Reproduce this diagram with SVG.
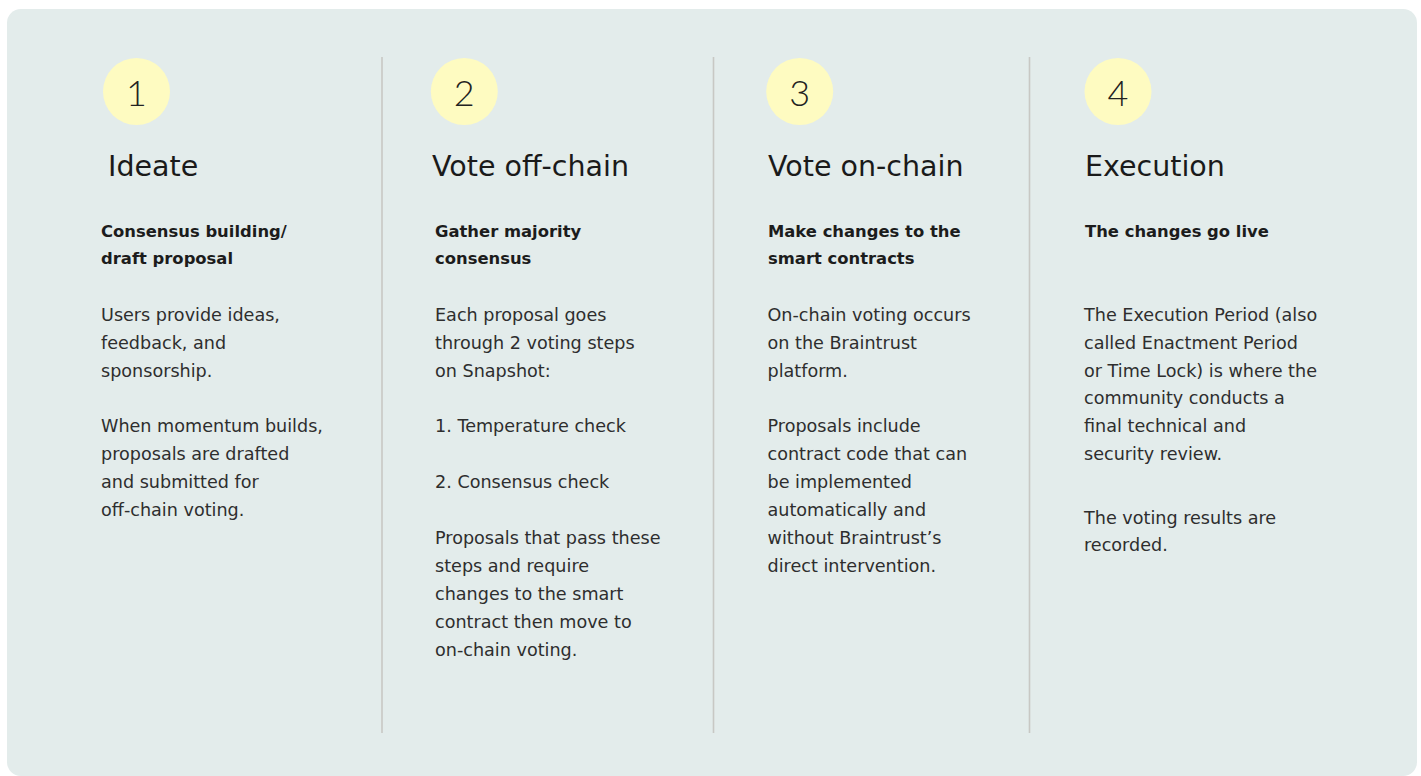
<svg xmlns="http://www.w3.org/2000/svg" width="1421" height="776" viewBox="0 0 1421 776">
<style>
.num{font-family:Lato,"DejaVu Sans",sans-serif;font-weight:300;font-size:36px;fill:#222;text-anchor:middle}
.title{font-family:"DejaVu Sans",sans-serif;font-size:28.5px;fill:#1a1a1a}
.sub{font-family:"DejaVu Sans",sans-serif;font-weight:bold;font-size:16.4px;fill:#1c1c1c}
.body{font-family:"DejaVu Sans",sans-serif;font-size:17.6px;fill:#2e2e2e}
.circ{fill:#FEFBC1}
.div{stroke:#C8C8C4;stroke-width:1.6}
</style>
<rect x="7" y="9" width="1410" height="767" rx="14" fill="#E3ECEB"/>
<g id="dividers">
<line class="div" x1="382" y1="57" x2="382" y2="733"/>
<line class="div" x1="713.5" y1="57" x2="713.5" y2="733"/>
<line class="div" x1="1029.5" y1="57" x2="1029.5" y2="733"/>
</g>
<g id="step1">
<circle class="circ" cx="136.5" cy="91.5" r="33.5"/>
<text class="num" x="136.5" y="106">1</text>
<text class="title" x="108" y="176">Ideate</text>
<text class="sub" x="101" y="236.5">Consensus building/</text>
<text class="sub" x="101" y="264.3">draft proposal</text>
<text class="body" x="101" y="320.7">Users provide ideas,</text>
<text class="body" x="101" y="348.6">feedback, and</text>
<text class="body" x="101" y="376.5">sponsorship.</text>
<text class="body" x="101" y="432.3">When momentum builds,</text>
<text class="body" x="101" y="460.2">proposals are drafted</text>
<text class="body" x="101" y="488.1">and submitted for</text>
<text class="body" x="101" y="516">off-chain voting.</text>
</g>
<g id="step2">
<circle class="circ" cx="464.3" cy="91.5" r="33.5"/>
<text class="num" x="464.3" y="106">2</text>
<text class="title" x="432" y="176">Vote off-chain</text>
<text class="sub" x="435" y="236.5">Gather majority</text>
<text class="sub" x="435" y="264.3">consensus</text>
<text class="body" x="435" y="320.7">Each proposal goes</text>
<text class="body" x="435" y="348.6">through 2 voting steps</text>
<text class="body" x="435" y="376.5">on Snapshot:</text>
<text class="body" x="435" y="432.3">1. Temperature check</text>
<text class="body" x="435" y="488.1">2. Consensus check</text>
<text class="body" x="435" y="543.9">Proposals that pass these</text>
<text class="body" x="435" y="571.8">steps and require</text>
<text class="body" x="435" y="599.7">changes to the smart</text>
<text class="body" x="435" y="627.6">contract then move to</text>
<text class="body" x="435" y="655.5">on-chain voting.</text>
</g>
<g id="step3">
<circle class="circ" cx="799.7" cy="91.5" r="33.5"/>
<text class="num" x="799.7" y="106">3</text>
<text class="title" x="768" y="176">Vote on-chain</text>
<text class="sub" x="768" y="236.5">Make changes to the</text>
<text class="sub" x="768" y="264.3">smart contracts</text>
<text class="body" x="767.5" y="320.7">On-chain voting occurs</text>
<text class="body" x="767.5" y="348.6">on the Braintrust</text>
<text class="body" x="767.5" y="376.5">platform.</text>
<text class="body" x="767.5" y="432.3">Proposals include</text>
<text class="body" x="767.5" y="460.2">contract code that can</text>
<text class="body" x="767.5" y="488.1">be implemented</text>
<text class="body" x="767.5" y="516">automatically and</text>
<text class="body" x="767.5" y="543.9">without Braintrust’s</text>
<text class="body" x="767.5" y="571.8">direct intervention.</text>
</g>
<g id="step4">
<circle class="circ" cx="1118" cy="91.5" r="33.5"/>
<text class="num" x="1118" y="106">4</text>
<text class="title" x="1085" y="176">Execution</text>
<text class="sub" x="1085" y="236.5">The changes go live</text>
<text class="body" x="1084" y="320.7">The Execution Period (also</text>
<text class="body" x="1084" y="348.6">called Enactment Period</text>
<text class="body" x="1084" y="376.5">or Time Lock) is where the</text>
<text class="body" x="1084" y="404.4">community conducts a</text>
<text class="body" x="1084" y="432.3">final technical and</text>
<text class="body" x="1084" y="460.2">security review.</text>
<text class="body" x="1084" y="523.5">The voting results are</text>
<text class="body" x="1084" y="551.4">recorded.</text>
</g>
</svg>
